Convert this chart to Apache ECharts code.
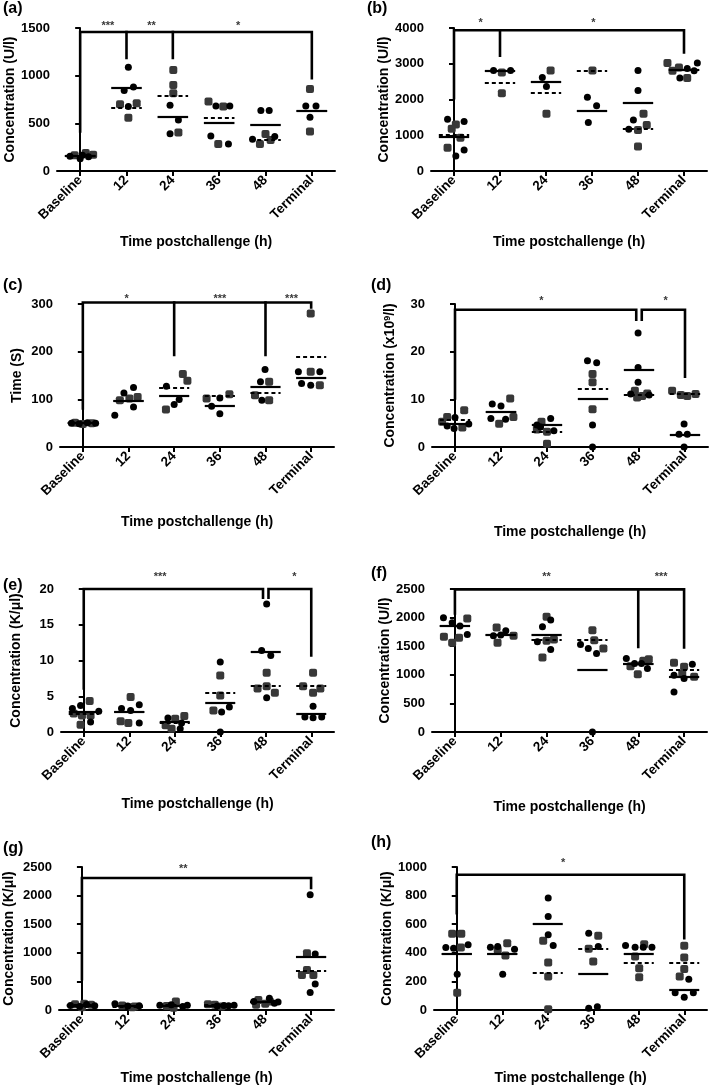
<!DOCTYPE html>
<html>
<head>
<meta charset="utf-8">
<script src="https://cdn.jsdelivr.net/npm/echarts@6/dist/echarts.min.js"></script>
<style>
html,body{margin:0;padding:0;background:#fff;}
#chart{width:709px;height:1089px;}
</style>
</head>
<body>
<div id="chart"></div>
<script>
// ---------- DATA ----------
const categories = ['Baseline', '12', '24', '36', '48', 'Terminal'];
const xAxisTitle = 'Time postchallenge (h)';
// points: [position on category scale (index + jitter), value]

// (a)
const aCircles = [[-0.22,155],[0.0,128],[0.05,165],[0.18,150],[1.04,1087],[0.95,845],[1.15,880],[1.04,676],[1.94,690],[2.12,535],[1.94,390],[2.93,683],[3.23,683],[2.82,368],[3.2,284],[3.9,634],[4.08,634],[3.72,333],[4.2,361],[4.87,683],[5.09,683],[4.96,564]];
const aSquares = [[-0.12,165],[0.12,190],[0.28,170],[0.86,700],[1.22,710],[1.04,559],[2.01,1059],[2.01,902],[2.01,815],[2.12,403],[2.77,729],[3.09,676],[2.98,284],[4.0,389],[3.88,284],[4.11,326],[4.96,859],[4.96,414]];
const aCircleMeans = [165,869,566,508,487,631];
const aSquareMeans = [165,659,790,557,326,631];
const aBrackets = [[[0,414],[0,1458],[5,1458],[5,974]],[[1,1458],[1,1185]],[[2,1458],[2,1185]]];
const aStars = [[0.6,1556,'***'],[1.54,1556,'**'],[3.41,1556,'*']];

// (b)
const bCircles = [[-0.14,1449],[0.22,1383],[0.22,589],[0.04,421],[0.86,2813],[1.23,2813],[1.92,2617],[2.01,2365],[2.9,2065],[3.1,1822],[2.92,1355],[4,2813],[4,2252],[3.9,1430],[3.8,1168],[5.07,2869],[5.29,3019],[4.91,2598],[5.22,2804]];
const bSquares = [[0.04,1300],[-0.05,1180],[0.14,930],[-0.14,650],[1.04,2757],[1.04,2178],[2.1,2813],[2.01,1598],[3.01,2813],[4.12,1598],[4.19,1290],[4,1150],[4,682],[4.64,3019],[4.75,2804],[4.89,2897],[5.07,2598]];
const bCircleMeans = [963,2813,2486,1692,1916,2832];
const bSquareMeans = [1009,2467,2178,2813,1168,2832];
const bBrackets = [[[0,2037],[0,3935],[5,3935],[5,3318]],[[1,3935],[1,3224]]];
const bStars = [[0.58,4234,'*'],[3.03,4234,'*']];

// (c)
const cCircles = [[-0.25,50],[-0.08,49],[0.1,51],[0.28,50],[0.9,113.5],[1.11,124.8],[1.11,84],[0.7,66.6],[1.83,127.6],[2.11,99.5],[2,89],[3,103],[2.82,85.5],[3,70],[3.99,162.6],[3.89,136.7],[3.92,98],[4.72,157.7],[5.19,157.7],[4.79,133],[4.99,129.7]];
const cSquares = [[-0.17,51],[0,48],[0.2,50],[1.02,101.6],[1.2,105],[0.81,98],[2.19,153],[2.29,139],[1.82,78.5],[2.71,101.6],[3.21,110.7],[4.08,136.7],[3.77,108.6],[4.08,98],[4.99,280],[4.99,157.7],[5.19,129.7]];
const cCircleMeans = [50,97,107,85.5,126,146];
const cSquareMeans = [50,97,124,106.5,113.5,189];
const cBrackets = [[[0,81],[0,303],[5,303],[5,293]],[[2,303],[2,193]],[[4,303],[4,193]]];
const cStars = [[0.96,317,'*'],[3.0,317,'***'],[4.57,317,'***']];

// (d)
const dCircles = [[0,6.2],[-0.17,4.4],[-0.02,3.9],[0.3,4.8],[0.81,9.0],[1,8.6],[0.78,6.0],[1.1,5.8],[2.08,6.0],[2.15,3.4],[1.86,4.2],[1.78,4.6],[2.88,18.1],[3.08,17.7],[2.99,4.6],[2.99,0],[3.98,23.9],[3.98,16.7],[3.98,13.6],[3.82,11.1],[4.22,10.9],[4.98,4.8],[4.87,2.7],[5.05,2.7],[4.98,0]];
const dSquares = [[0.2,7.7],[-0.17,6.3],[0.16,4.1],[-0.28,5.3],[1.2,10.2],[1.27,6.3],[0.96,4.9],[1.88,5.3],[1.78,3.65],[2,3.2],[2,0.7],[2.99,15.3],[2.99,13.6],[2.99,7.9],[3.91,11.8],[4.18,11.2],[3.96,10.4],[4.07,10.7],[4.72,11.8],[4.91,10.9],[5.05,10.7],[5.23,11.1]];
const dCircleMeans = [4.9,7.4,4.6,10.2,16.2,2.5];
const dSquareMeans = [5.8,7.4,3.2,12.3,10.9,11.1];
const dBrackets = [[[0,10.2],[0,28.8],[3.94,28.8],[3.94,26.7]],[[4.06,26.7],[4.06,28.8],[5,28.8],[5,14.75]]];
const dStars = [[1.88,31.3,'*'],[4.58,31.3,'*']];

// (e)
const eCircles = [[-0.25,3.3],[-0.07,3.7],[0.33,2.9],[0.15,1.4],[0.83,3.3],[1.22,3.8],[1.03,3.0],[1.22,1.26],[1.85,1.96],[2.15,1.26],[2.12,0.47],[3,9.8],[3.03,2.8],[3.2,3.5],[3,0],[4.02,17.9],[3.91,11.4],[4.11,10.7],[4.02,4.8],[5.04,3.6],[4.86,2.1],[5.04,2.0],[5.23,2.1]];
const eSquares = [[0.13,4.35],[-0.22,2.6],[-0.04,2.3],[0.15,2.3],[-0.07,1.0],[1.03,4.9],[0.81,1.5],[0.98,1.26],[2.01,1.87],[2.21,2.24],[1.8,0.93],[1.93,0.47],[3,7.9],[3,5.1],[2.85,3.0],[4.02,8.3],[4.02,6.4],[3.82,6.1],[4.2,5.5],[5.04,8.3],[4.82,6.4],[5.2,6.1],[5.04,5.5]];
const eCircleMeans = [2.8,2.8,1.4,4.1,11.2,2.5];
const eSquareMeans = [2.6,2.8,1.3,5.5,6.5,6.5];
const eBrackets = [[[0,6.1],[0,20],[3.94,20],[3.94,18.8]],[[4.06,18.8],[4.06,20],[5,20],[5,10.7]]];
const eStars = [[1.68,22.1,'***'],[4.63,22.1,'*']];

// (f)
const fCircles = [[-0.25,1998],[-0.06,1910],[0.11,1852],[0.27,1706],[1.11,1770],[1,1694],[0.84,1682],[2.09,1957],[1.91,1840],[1.8,1577],[2.09,1443],[2.74,1530],[2.91,1460],[3.09,1373],[3,0],[3.74,1285],[3.92,1197],[4.07,1197],[4.2,1110],[5.18,1186],[4.78,993],[5,935],[4.78,701]];
const fSquares = [[0.27,1986],[-0.24,1665],[0.09,1647],[-0.06,1560],[0.91,1828],[1.28,1682],[0.93,1560],[2,2015],[2.16,1618],[2,1595],[1.91,1302],[3,1781],[3.04,1606],[3.24,1460],[3.83,1151],[4.23,1273],[3.99,1010],[4.11,1244],[4.78,1209],[5,1139],[5.22,964],[4.96,1022]];
const fCircleMeans = [1852,1705,1705,1092,1186,964];
const fSquareMeans = [1852,1705,1618,1606,1186,1080];
const fBrackets = [[[0,2074],[0,2494],[5,2494],[5,1478]],[[4,2494],[4,1489]]];
const fStars = [[2.0,2757,'**'],[4.5,2757,'***']];

// (g)
const gCircles = [[-0.25,80],[-0.05,60],[0.1,95],[0.28,75],[0.72,110],[1,70],[1.25,75],[1.7,85],[1.95,90],[2.2,60],[2.3,85],[3.1,80],[3.2,75],[3.32,85],[2.95,70],[3.75,150],[4.09,204],[4.2,120],[4.28,140],[4.98,2015],[5.09,981],[5.09,456],[4.98,304]];
const gSquares = [[-0.15,100],[0.05,110],[0.2,90],[0,50],[0.88,80],[1.1,50],[1.15,60],[2.05,150],[2,40],[1.85,70],[2.75,100],[2.9,90],[3.05,60],[3.85,175],[4,110],[4.1,150],[3.8,90],[4.91,993],[4.8,613],[5.05,613],[4.91,700]];
const gCircleMeans = [80,75,80,80,150,939];
const gSquareMeans = [85,65,85,85,140,690];
const gBrackets = [[[0,537],[0,2307],[5,2307],[5,2132]]];
const gStars = [[2.21,2523,'**']];

// (h)
const hCircles = [[-0.24,437],[-0.07,432],[0.25,456],[0.01,250],[0.74,439],[0.9,444],[1.27,425],[1.01,250],[2.01,783],[2.01,654],[2.01,526],[2.12,451],[2.9,537],[3.11,444],[2.9,12],[3.09,23],[3.71,451],[3.92,439],[4.1,439],[4.29,439],[5.1,215],[4.8,121],[5,89],[5.2,121]];
const hSquares = [[-0.1,533],[0.1,533],[0.09,437],[0.01,121],[1.11,467],[0.9,420],[1.07,381],[1.9,484],[2.01,332],[2.01,234],[2.01,5],[3.11,519],[2.9,428],[3,339],[4.12,460],[3.92,374],[4.01,292],[4.01,229],[5,449],[5,367],[5,287],[4.9,234]];
const hCircleMeans = [390,390,600,252,392,140];
const hSquareMeans = [390,390,262,425,327,327];
const hBrackets = [[[0,677],[0,946],[5,946],[5,502]]];
const hStars = [[2.34,1051,'*']];

// y axis settings
const yMaxes = [1500, 4000, 300, 30, 20, 2500, 2500, 1000];
const yIntervals = [500, 1000, 100, 10, 5, 500, 500, 200];
const yNames = ['Concentration (U/l)', 'Concentration (U/l)', 'Time (S)', 'Concentration (x10{sup|9}/l)',
  'Concentration (K/\u03bcl)', 'Concentration (U/l)', 'Concentration (K/\u03bcl)', 'Concentration (K/\u03bcl)'];
const panelLabels = ['(a)','(b)','(c)','(d)','(e)','(f)','(g)','(h)'];

// ---------- LAYOUT ----------
const panelData = [
  [aCircles,aSquares,aCircleMeans,aSquareMeans,aBrackets,aStars],
  [bCircles,bSquares,bCircleMeans,bSquareMeans,bBrackets,bStars],
  [cCircles,cSquares,cCircleMeans,cSquareMeans,cBrackets,cStars],
  [dCircles,dSquares,dCircleMeans,dSquareMeans,dBrackets,dStars],
  [eCircles,eSquares,eCircleMeans,eSquareMeans,eBrackets,eStars],
  [fCircles,fSquares,fCircleMeans,fSquareMeans,fBrackets,fStars],
  [gCircles,gSquares,gCircleMeans,gSquareMeans,gBrackets,gStars],
  [hCircles,hSquares,hCircleMeans,hSquareMeans,hBrackets,hStars]
];
const layouts = [
  {left:57, top:28, width:278, height:143, yGap:39, xGap:64, lx:3, ly:1},
  {left:431, top:28, width:276, height:143, yGap:39, xGap:64, lx:367, ly:1},
  {left:60, top:304, width:274, height:143, yGap:36, xGap:68, lx:3, ly:278},
  {left:432, top:304, width:276, height:143, yGap:34, xGap:78, lx:371, ly:278},
  {left:61, top:589, width:273, height:143, yGap:38, xGap:65, lx:3, ly:578},
  {left:432, top:589, width:275, height:143, yGap:39, xGap:68, lx:371, ly:566},
  {left:59, top:867, width:275, height:143, yGap:43, xGap:61, lx:3, ly:841},
  {left:434, top:867, width:273, height:143, yGap:38, xGap:61, lx:371, ly:835}
];

const FONT = '"Liberation Sans", Arial, Helvetica, sans-serif';
const SQUARE_COLOR = '#383838';
const HALF = 0.33;

const grid = [], xAxis = [], yAxis = [], series = [], graphic = [];

layouts.forEach((L, i) => {
  const [circles, squares, cMeans, sMeans, brackets, stars] = panelData[i];
  grid.push({left:L.left, top:L.top, width:L.width, height:L.height, containLabel:false});
  // visible category axis
  xAxis.push({
    type:'category', gridIndex:i, data:categories, boundaryGap:true,
    name:xAxisTitle, nameLocation:'middle', nameGap:L.xGap,
    nameTextStyle:{fontFamily:FONT, fontWeight:'bold', fontSize:14, color:'#000'},
    axisLine:{show:true, lineStyle:{color:'#000', width:2}},
    axisTick:{show:true, alignWithLabel:true, length:5, lineStyle:{color:'#000', width:2}},
    axisLabel:{interval:0, rotate:45, margin:7, fontFamily:FONT, fontWeight:'bold', fontSize:13.5, color:'#000'},
    splitLine:{show:false}
  });
  // hidden value axis for point positions
  xAxis.push({type:'value', gridIndex:i, min:-0.5, max:5.5, show:false});
  yAxis.push({
    type:'value', gridIndex:i, min:0, max:yMaxes[i], interval:yIntervals[i],
    name:yNames[i], nameLocation:'middle', nameGap:L.yGap,
    nameTextStyle:{fontFamily:FONT, fontWeight:'bold', fontSize:14, color:'#000',
      rich:{sup:{fontFamily:FONT, fontWeight:'bold', fontSize:9, color:'#000', verticalAlign:'top', padding:[0,0,6,0]}}},
    axisLine:{show:true, lineStyle:{color:'#000', width:2}},
    axisTick:{show:true, length:5, lineStyle:{color:'#000', width:2}},
    axisLabel:{margin:7, fontFamily:FONT, fontWeight:'bold', fontSize:13, color:'#000', formatter:v => String(v)},
    splitLine:{show:false}
  });
  const xi = i * 2 + 1;
  const meanLines = (arr) => arr.map((m, k) => [{coord:[k - HALF, m]}, {coord:[k + HALF, m]}]);
  series.push({
    type:'scatter', xAxisIndex:xi, yAxisIndex:i, data:squares, symbol:'roundRect', symbolSize:8,
    itemStyle:{color:SQUARE_COLOR, opacity:1}, clip:false, silent:true, z:2,
    markLine:{silent:true, symbol:['none','none'], label:{show:false}, animation:false,
      lineStyle:{color:'#000', width:2.2, type:[4,3], opacity:1}, data:meanLines(sMeans)}
  });
  series.push({
    type:'scatter', xAxisIndex:xi, yAxisIndex:i, data:circles, symbol:'circle', symbolSize:7,
    itemStyle:{color:'#000', opacity:1}, clip:false, silent:true, z:3,
    markLine:{silent:true, symbol:['none','none'], label:{show:false}, animation:false,
      lineStyle:{color:'#000', width:2.2, type:'solid', opacity:1}, data:meanLines(cMeans)}
  });
  brackets.forEach(path => {
    series.push({
      type:'line', xAxisIndex:xi, yAxisIndex:i, data:path, showSymbol:false, symbol:'none',
      lineStyle:{color:'#000', width:2.6, cap:'square', join:'miter'}, clip:false, silent:true, z:4
    });
  });
  series.push({
    type:'scatter', xAxisIndex:xi, yAxisIndex:i, data:stars, symbolSize:1,
    itemStyle:{color:'rgba(0,0,0,0)'}, clip:false, silent:true, z:5,
    label:{show:true, position:'inside', formatter:p => p.value[2], offset:[0,3],
      fontFamily:FONT, fontWeight:'bold', fontSize:11, color:'#000'}
  });
  graphic.push({type:'text', left:L.lx, top:L.ly,
    style:{text:panelLabels[i], fontFamily:FONT, fontWeight:'bold', fontSize:16, fill:'#000'}});
});

const chart = echarts.init(document.getElementById('chart'), null, {renderer:'canvas'});
chart.setOption({
  animation:false,
  backgroundColor:'#fff',
  grid, xAxis, yAxis, series, graphic
});
</script>
</body>
</html>
